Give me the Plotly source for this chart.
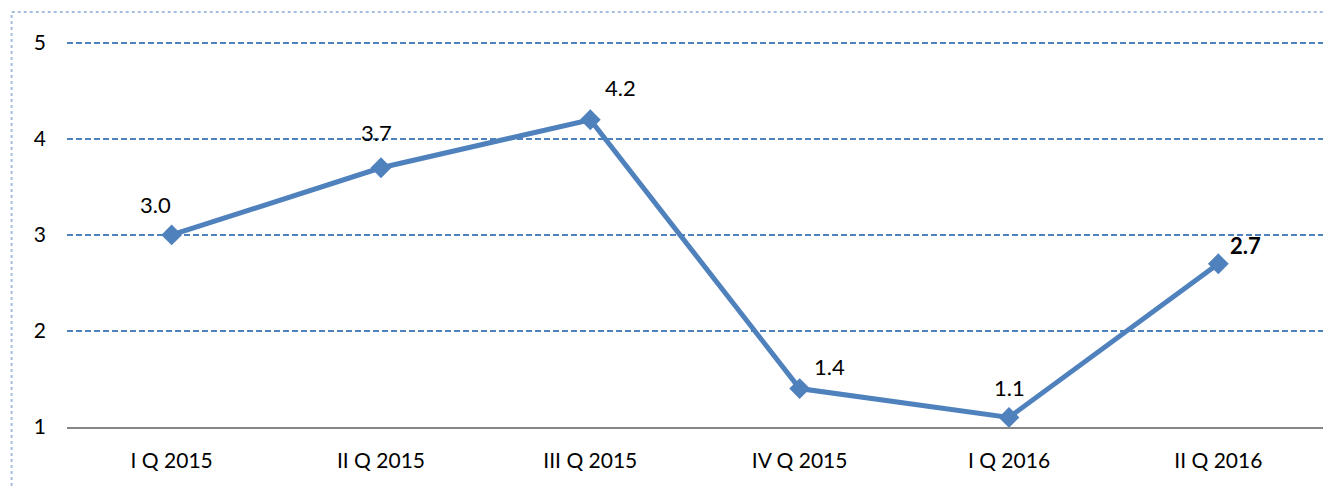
import plotly.graph_objects as go

categories = ["I Q 2015", "II Q 2015", "III Q 2015", "IV Q 2015", "I Q 2016", "II Q 2016"]
values = [3.0, 3.7, 4.2, 1.4, 1.1, 2.7]
y_ticks = [1, 2, 3, 4, 5]

# label offsets (pixels) per point
label_dx = [-16, -5, 30, 30, 0, 27]
label_dy = [30, 35, 32, 22, 30, 18]
label_bold = [False, False, False, False, False, True]

FONT = "Lato, Calibri, sans-serif"
BLUE = "#4F81BD"

fig = go.Figure()
fig.add_trace(go.Scatter(
    x=categories, y=values, mode="lines+markers",
    line=dict(color=BLUE, width=5),
    marker=dict(symbol="diamond", size=16, color=BLUE),
    hoverinfo="skip", showlegend=False,
))

for c, v, dx, dy, b in zip(categories, values, label_dx, label_dy, label_bold):
    fig.add_annotation(
        x=c, y=v, text=(f"<b>{v:.1f}</b>" if b else f"{v:.1f}"),
        showarrow=False, xshift=dx, yshift=dy,
        font=dict(family=FONT, size=22, color="#000000"),
    )

fig.add_shape(type="rect", xref="paper", yref="paper",
              x0=-0.0441, x1=1.05, y0=-0.3, y1=1.075,
              line=dict(color="#A7BFDE", width=2, dash="dot"), layer="below")

fig.update_layout(
    width=1325, height=479,
    margin=dict(l=59, r=10, t=33, b=60),
    paper_bgcolor="white", plot_bgcolor="white",
    font=dict(family=FONT, size=21, color="#000000"),
    xaxis=dict(type="category", range=[-0.5, 5.5], showgrid=False,
               showline=True, linecolor="#868686", linewidth=2,
               ticks="", tickfont=dict(size=21), zeroline=False,
               ticklabelstandoff=14),
    yaxis=dict(range=[1, 5.02], tickvals=y_ticks, showgrid=True,
               gridcolor=BLUE, griddash="6px,3px", gridwidth=1.5,
               showline=False, zeroline=False, ticks="",
               ticklabelstandoff=20, tickfont=dict(size=21)),
)
fig.write_html("out.html")
